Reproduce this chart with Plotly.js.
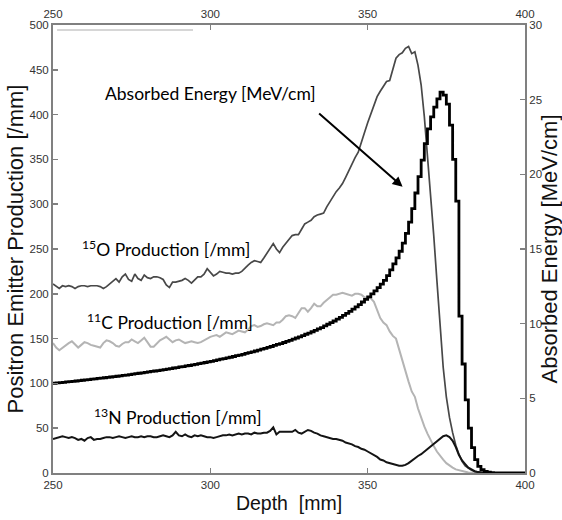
<!DOCTYPE html>
<html>
<head>
<meta charset="utf-8">
<script src="https://cdn.plot.ly/plotly-3.0.1.min.js"></script>
<style>html,body{margin:0;padding:0;background:#fff;}#chart{width:562px;height:520px;}</style>
</head>
<body>
<div id="chart"></div>
<script>
// Depth [mm]
const depth = [
250,251,252,253,254,255,256,257,258,259,
260,261,262,263,264,265,266,267,268,269,
270,271,272,273,274,275,276,277,278,279,
280,281,282,283,284,285,286,287,288,289,
290,291,292,293,294,295,296,297,298,299,
300,301,302,303,304,305,306,307,308,309,
310,311,312,313,314,315,316,317,318,319,
320,321,322,323,324,325,326,327,328,329,
330,331,332,333,334,335,336,337,338,339,
340,341,342,343,344,345,346,347,348,349,
350,351,352,353,354,355,356,357,358,359,
360,361,362,363,364,365,366,367,368,369,
370,371,372,373,374,375,376,377,378,379,
380,381,382,383,384,385,386,387,388,389,
390,391,392,393,394,395,396,397,398,399,
400];

// 15O production [/mm]
const o15 = [
211,208,206,209,208,209,208,206,208,209,
209,208,209,209,209,208,206,208,211,213,
217,213,219,222,216,214,222,217,215,221,
218,217,219,219,218,216,210,207,213,213,
214,215,217,215,212,215,219,219,222,228,
224,220,222,225,224,223,223,222,223,223,
225,229,232,235,237,236,235,240,245,251,
256,250,246,252,256,260,265,266,266,272,
278,280,282,286,288,289,290,297,303,308,
314,318,323,330,338,346,352,358,368,380,
391,400,410,420,426,432,437,438,450,463,
467,469,474,476,468,470,455,433,398,355,
310,265,215,165,118,85,62,45,31,21,
13,8,5,3,1.8,1,0.5,0.2,0,0,
0,0,0,0,0,0,0,0,0,0,
0];

// 11C production [/mm]
const c11 = [
145,140,137,140,143,145,147,144,140,143,
146,145,143,142,141,140,145,148,147,145,
142,141,144,146,146,149,147,145,148,151,
146,141,141,145,148,150,152,149,146,148,
149,147,145,146,147,146,145,146,148,150,
152,153,154,152,155,157,156,155,157,159,
158,157,160,164,165,163,164,166,167,166,
165,168,168,171,175,176,175,173,178,184,
184,180,184,189,186,186,190,193,196,199,
199,200,201,200,199,198,200,200,199,196,
196,195,191,183,173,168,165,158,153,150,
138,125,112,102,91,85,72,61,52,44,
36,30,24,19,15,11,8,6,4,3,
2,1,0.5,0.2,0,0,0,0,0,0,
0,0,0,0,0,0,0,0,0,0,
0];

// 13N production [/mm]
const n13 = [
38,39,40,41,40,39,40,39,37,38,
36,39,40,37,38,38,39,40,40,39,
40,41,40,39,40,41,40,40,41,40,
41,41,40,40,41,42,41,40,42,46,
42,41,43,41,40,42,41,42,41,40,
40,39,40,41,42,42,43,42,43,44,
43,44,44,43,45,44,44,45,45,47,
51,43,46,46,46,46,46,48,45,44,
46,48,47,45,44,42,41,40,39,38,
38,37,36,34,33,32,30,29,27,26,
24,22,20,18,15,14,12,11,10,9,
8,8,9,11,14,16,19,21,24,27,
30,33,36,39,41,42,40,36,29,20,
14,10,6,4,2,1,0.5,0.2,0,0,
0,0,0,0,0,0,0,0,0,0,
0];

// Absorbed energy [MeV/cm], one value per 1 mm bin starting at the depth value
const energy = [
6.01,6.03,6.05,6.07,6.10,6.12,6.14,6.16,6.19,6.21,
6.23,6.25,6.28,6.30,6.33,6.35,6.38,6.41,6.43,6.46,
6.48,6.51,6.54,6.56,6.59,6.62,6.65,6.68,6.71,6.74,
6.77,6.80,6.83,6.86,6.89,6.92,6.96,6.99,7.03,7.06,
7.10,7.13,7.17,7.20,7.24,7.28,7.32,7.36,7.40,7.44,
7.48,7.52,7.57,7.62,7.66,7.71,7.75,7.80,7.86,7.90,
7.95,8.01,8.06,8.11,8.17,8.23,8.29,8.34,8.41,8.47,
8.54,8.61,8.67,8.74,8.81,8.88,8.96,9.04,9.12,9.20,
9.29,9.37,9.46,9.55,9.65,9.74,9.85,9.96,10.07,10.18,
10.30,10.42,10.55,10.69,10.82,10.97,11.12,11.28,11.45,11.62,
11.80,11.99,12.19,12.42,12.65,12.90,13.22,13.60,14.00,14.40,
14.85,15.40,16.05,16.80,17.70,18.75,19.85,20.95,22.05,23.05,
23.85,24.50,25.05,25.50,25.30,24.70,23.30,21.00,18.20,10.50,
7.30,4.90,3.00,1.70,0.90,0.45,0.22,0.10,0.05,0.02,
0,0,0,0,0,0,0,0,0,0,
0];

const depthTicks = [250, 300, 350, 400];
const prodTicks = [0, 50, 100, 150, 200, 250, 300, 350, 400, 450, 500];
const energyTicks = [0, 5, 10, 15, 20, 25, 30];

const labelFont = 'Lato, "Open Sans", sans-serif';
const axisFont = '"Liberation Sans", Arial, sans-serif';
const tickFont = {family: axisFont, size: 11.5, color: '#333'};
const axisGray = '#808080';

const traces = [
  {x: depth, y: c11, type: 'scatter', mode: 'lines', line: {color: '#b4b4b4', width: 2}, xaxis: 'x', yaxis: 'y', name: '11C'},
  {x: depth, y: o15, type: 'scatter', mode: 'lines', line: {color: '#484848', width: 1.7}, xaxis: 'x', yaxis: 'y', name: '15O'},
  {x: depth, y: n13, type: 'scatter', mode: 'lines', line: {color: '#141414', width: 2}, xaxis: 'x', yaxis: 'y', name: '13N'},
  {x: depth, y: energy, type: 'scatter', mode: 'lines', line: {color: '#000', width: 2.8, shape: 'hv'}, xaxis: 'x2', yaxis: 'y2', name: 'Energy'}
];

const commonAxis = {
  ticks: 'inside', ticklen: 5, tickwidth: 1.5, tickcolor: axisGray,
  showline: true, linecolor: axisGray, linewidth: 2,
  showgrid: false, zeroline: false, tickfont: tickFont, automargin: false
};

const layout = {
  width: 562, height: 520,
  margin: {l: 53, r: 37, t: 25, b: 47},
  paper_bgcolor: '#fff', plot_bgcolor: '#fff',
  showlegend: false,
  xaxis: Object.assign({}, commonAxis, {
    range: [250, 400], tickvals: depthTicks, ticktext: depthTicks.map(String),
    title: {text: 'Depth\u00a0\u00a0[mm]', font: {family: axisFont, size: 19.5, color: '#111'}, standoff: 7}
  }),
  xaxis2: Object.assign({}, commonAxis, {
    range: [250, 400], tickvals: depthTicks, ticktext: depthTicks.map(String),
    overlaying: 'x', side: 'top', anchor: 'y'
  }),
  yaxis: Object.assign({}, commonAxis, {
    range: [0, 500], tickvals: prodTicks, ticktext: prodTicks.map(String),
    title: {text: 'Positron Emitter Production [/mm]', font: {family: axisFont, size: 22, color: '#111'}, standoff: 0}
  }),
  yaxis2: Object.assign({}, commonAxis, {
    range: [0, 30], tickvals: energyTicks, ticktext: energyTicks.map(String),
    overlaying: 'y', side: 'right', anchor: 'x2',
    title: {text: 'Absorbed Energy [MeV/cm]', font: {family: axisFont, size: 22, color: '#111'}, standoff: 4}
  }),
  shapes: [
    {type: 'line', xref: 'x', yref: 'y', x0: 251.3, x1: 294.5, y0: 494.5, y1: 494.5, line: {color: '#c8c8c8', width: 1.5}}
  ],
  annotations: [
    {x: 300.2, y: 424, xref: 'x', yref: 'y', text: 'Absorbed Energy [MeV/cm]', showarrow: false,
     font: {family: labelFont, size: 17.5, color: '#000'}},
    {x: 285.9, y: 251, xref: 'x', yref: 'y', text: '<sup>15</sup>O Production [/mm]', showarrow: false,
     font: {family: labelFont, size: 17.5, color: '#000'}},
    {x: 287.2, y: 169, xref: 'x', yref: 'y', text: '<sup>11</sup>C Production [/mm]', showarrow: false,
     font: {family: labelFont, size: 17.5, color: '#000'}},
    {x: 289.8, y: 63, xref: 'x', yref: 'y', text: '<sup>13</sup>N Production [/mm]', showarrow: false,
     font: {family: labelFont, size: 17.5, color: '#000'}},
    {x: 361.1, y: 319.5, xref: 'x', yref: 'y', ax: 334.1, ay: 402.6, axref: 'x', ayref: 'y',
     text: '', showarrow: true, arrowhead: 2, arrowsize: 1, arrowwidth: 2, arrowcolor: '#000', standoff: 0}
  ]
};

Plotly.newPlot('chart', traces, layout, {displayModeBar: false, staticPlot: true});
</script>
</body>
</html>
